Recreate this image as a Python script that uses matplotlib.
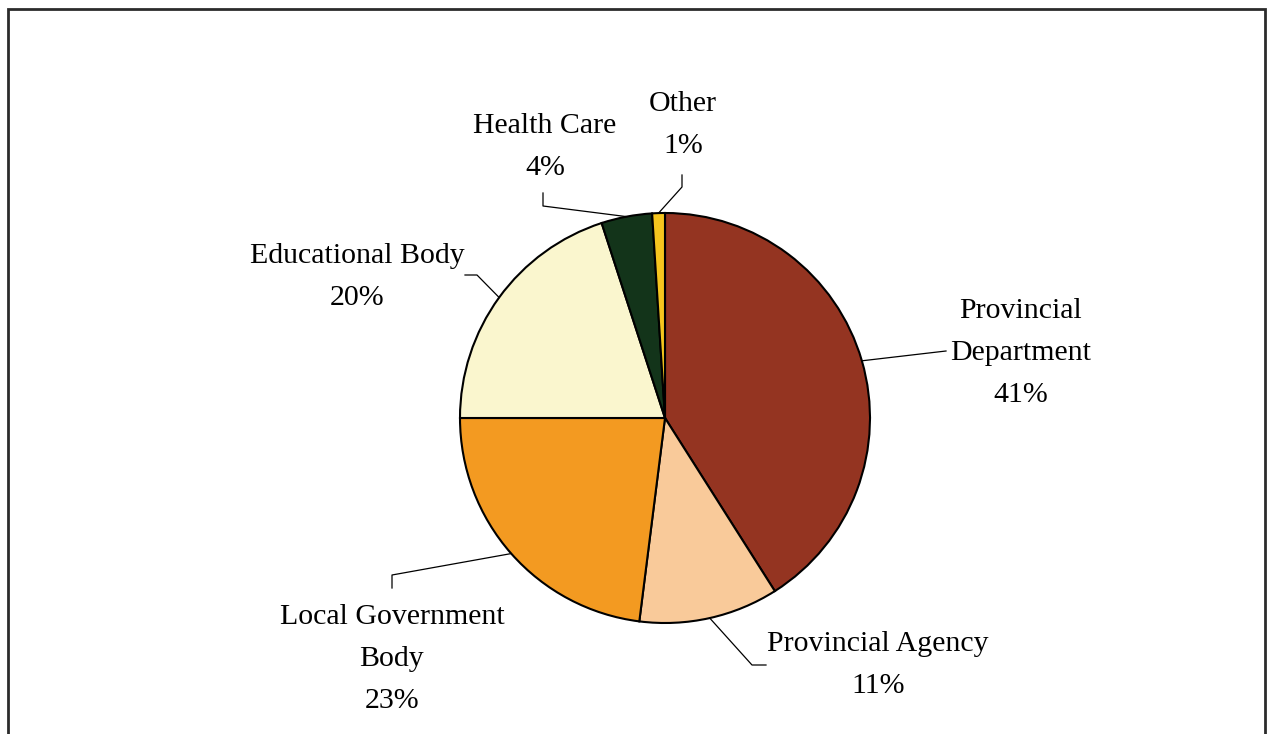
import numpy as np
import matplotlib.pyplot as plt
from matplotlib.patches import Rectangle

labels = ['Provincial\nDepartment', 'Provincial Agency', 'Local Government\nBody',
          'Educational Body', 'Health Care', 'Other']
shares = [41, 11, 23, 20, 4, 1]
colors = ['#943421', '#F9CA9A', '#F39A21', '#FAF6CE', '#13341A', '#F5C51E']

# label placement (pixels, y measured from top) and leader elbows
label_xy = [(1021, 353), (878, 665), (392, 659), (357, 277), (545, 147), (683, 125)]
elbows = [None, [(752, 665), (766, 665)], [(392, 575), (392, 588)],
          [(477, 275), (465, 275)], [(543, 206), (543, 193)], [(682, 187), (682, 175)]]
leader_end = [(946, 351), None, None, None, None, None]

W, H = 1267, 734
cx, cy, r = 665, 418, 205

fig = plt.figure(figsize=(W / 100, H / 100), dpi=100)
ax = fig.add_axes([0, 0, 1, 1])

wedges, _ = ax.pie(shares, colors=colors, startangle=90, counterclock=False,
                   center=(cx, H - cy), radius=r,
                   wedgeprops=dict(edgecolor='black', linewidth=1.5))
ax.set_xlim(0, W)
ax.set_ylim(0, H)
ax.set_aspect('auto')
ax.axis('off')

for w, lab, val, (tx, ty), elb, end in zip(wedges, labels, shares, label_xy, elbows, leader_end):
    ang = np.deg2rad((w.theta1 + w.theta2) / 2)
    sx = cx + r * np.cos(ang)
    sy = H - cy + r * np.sin(ang)
    pts = [(sx, sy)]
    if elb is not None:
        pts += [(x, H - y) for x, y in elb]
    if end is not None:
        pts.append((end[0], H - end[1]))
    xs, ys = zip(*pts)
    ax.plot(xs, ys, color='black', lw=0.9)
    ax.text(tx, H - ty, f'{lab}\n{val}%', ha='center', va='center',
            fontsize=21.5, family='Liberation Serif', linespacing=1.8)

# outer frame
ax.add_patch(Rectangle((8, -20), 1257, H - 9 + 20, fill=False,
                       edgecolor='#2b2b2b', lw=2, clip_on=False))

fig.savefig('out.png', dpi=100)
